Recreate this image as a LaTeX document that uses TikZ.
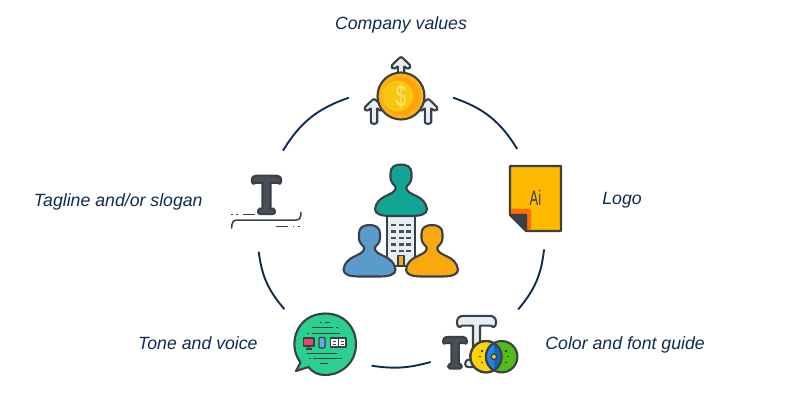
\documentclass[tikz,border=0pt]{standalone}
\usepackage{fontspec}
\setmainfont{Liberation Sans}
\newfontfamily\narrowfont[FakeStretch=0.62]{Liberation Sans}
\usetikzlibrary{positioning}

\definecolor{ringblue}{HTML}{0F2B4F}
\definecolor{iconline}{HTML}{3A3F48}
\definecolor{palefill}{HTML}{E4EEF3}
\definecolor{slatefill}{HTML}{4A4E57}
\definecolor{tealfill}{HTML}{12A594}
\definecolor{bluefill}{HTML}{5A9BCB}
\definecolor{amberfill}{HTML}{F9A80E}
\definecolor{coinrim}{HTML}{FBB313}
\definecolor{coinshade}{HTML}{FFA30A}
\definecolor{coinface}{HTML}{F7C713}
\definecolor{coinmark}{HTML}{FFE36A}
\definecolor{pagefill}{HTML}{FFBA00}
\definecolor{foldfill}{HTML}{FF6D00}
\definecolor{leafgreen}{HTML}{55BB1A}
\definecolor{lensblue}{HTML}{1E88E5}
\definecolor{lensdark}{HTML}{1565B8}
\definecolor{bubblefill}{HTML}{2AD08D}
\definecolor{screenred}{HTML}{E8466A}

% person with head top centre at (#1,#2)
\newcommand{\personicon}[3]{
    \draw[outline, fill=#3, shift={(#1,#2)}] (-10.5,9) .. controls (-10.5,3) and (-6,0.5) .. (0,0.5)
        .. controls (6,0.5) and (10.5,3) .. (10.5,9) -- (10.5,14)
        .. controls (10.5,18) and (7,21) .. (5.5,22.5) -- (5.5,25)
        .. controls (8,32) and (24,31) .. (26,45)
        .. controls (26,50) and (20,52) .. (10,52) -- (-10,52)
        .. controls (-20,52) and (-26,50) .. (-26,45)
        .. controls (-24,31) and (-8,32) .. (-5.5,25) -- (-5.5,22.5)
        .. controls (-7,21) and (-10.5,18) .. (-10.5,14) -- cycle;
}
% serif T: top centre (#1,#2), scale #3, stem half width #4
\newcommand{\serifT}[5]{
    \draw[outline, fill=#5, shift={(#1,#2)}] (-#4,6.5*#3) -- (-#4,27.5*#3) -- (-5.5*#3,27.5*#3)
        .. controls (-7.5*#3,28.5*#3) and (-7.5*#3,32*#3) .. (-5*#3,32*#3) -- (5*#3,32*#3)
        .. controls (7.5*#3,32*#3) and (7.5*#3,28.5*#3) .. (5.5*#3,27.5*#3) -- (#4,27.5*#3) -- (#4,6.5*#3)
        -- (9*#3,6.5*#3) .. controls (10*#3,8*#3) and (12*#3,7.5*#3) .. (12*#3,4.5*#3)
        .. controls (12*#3,1.5*#3) and (10*#3,0.5*#3) .. (8*#3,0.5*#3) -- (-8*#3,0.5*#3)
        .. controls (-10*#3,0.5*#3) and (-12*#3,1.5*#3) .. (-12*#3,4.5*#3)
        .. controls (-12*#3,7.5*#3) and (-10*#3,8*#3) .. (-9*#3,6.5*#3) -- cycle;
}
% upward arrow with tip at (#1,#2), stem ending at #3
\newcommand{\uparrowicon}[3]{
    \draw[outline, fill=palefill, shift={(#1,#2)}] (-1.5,0.8) .. controls (-0.7,0) and (0.7,0) .. (1.5,0.8)
        -- (9,8) .. controls (10.5,10) and (8.5,12.5) .. (6.5,11.5) -- (3.2,9.5) -- (3.2,#3)
        .. controls (3.2,#3+2.5) and (-3.2,#3+2.5) .. (-3.2,#3) -- (-3.2,9.5) -- (-6.5,11.5)
        .. controls (-8.5,12.5) and (-10.5,10) .. (-9,8) -- cycle;
}

\begin{document}
\begin{tikzpicture}[
    x=1pt, y=-1pt,
    iconbox/.style={circle, minimum size=104pt, inner sep=0pt},
    caption/.style={inner sep=0pt, text=ringblue, font=\fontsize{17.7}{20}\selectfont\itshape},
    ring/.style={draw=ringblue, line width=1.9pt},
    outline/.style={draw=iconline, line width=2.1pt, line join=round},
    thinline/.style={draw=iconline, line width=1.3pt, line join=round},
    rule/.style={draw=iconline, line width=1.3pt}
]
    \useasboundingbox (0,0) rectangle (800,416);

    % NODES
    \node[iconbox] (values) at (401,95) {};
    \node[iconbox] (logo) at (535,198) {};
    \node[iconbox] (guide) at (480,345) {};
    \node[iconbox] (tone) at (325,342) {};
    \node[iconbox] (tagline) at (266,200) {};

    \node[caption, above=9pt of values] (values_text) {Company values};
    \node[caption, right=15pt of logo, yshift=-2.5pt] (logo_text) {Logo};
    \node[caption, right=13pt of guide] (guide_text) {Color and font guide};
    \node[caption, left=15pt of tone, yshift=-1pt] (tone_text) {Tone and voice};
    \node[caption, left=11pt of tagline, yshift=-1.5pt] (tagline_text) {Tagline and/or slogan};

    % EDGES
    \draw[ring] (values.-3) to[bend left=20] (logo.110);
    \draw[ring] (logo.-80) to[bend left=17] (guide.43);
    \draw[ring] (guide.199) to[bend left=12] (tone.-27);
    \draw[ring] (tone.141) to[bend left=17] (tagline.-98);
    \draw[ring] (tagline.71) to[bend left=20] (values.183);

    % coin and arrows
    \uparrowicon{401}{57}{25}
    \uparrowicon{374}{99}{23}
    \uparrowicon{428}{99}{23}
    \draw[outline, fill=coinrim] (401,96) circle (23.5);
    \fill[coinshade] (401,96) circle (19);
    \fill[coinface] (397.5,96) circle (15.5);
    \node[text=coinmark, font=\fontsize{30}{30}\narrowfont, inner sep=0pt] (dollar) at (401,96) {\$};

    % people and building
    \draw[outline, fill=palefill] (387,214) rectangle (415,266);
    \foreach \rowy in {225,231.5,238,244.5,251}
        \foreach \colx in {393.5,401,408.5}
            \fill[slatefill] (\colx-2.5,\rowy-1.2) rectangle (\colx+2.5,\rowy+1.2);
    \draw[thinline, fill=amberfill] (398,265) -- (398,255.5) -- (404,255.5) -- (404,265);
    \personicon{401}{164}{tealfill}
    \personicon{369.5}{224.5}{bluefill}
    \personicon{432}{224.5}{amberfill}

    % document page
    \draw[outline, fill=pagefill] (510,166) -- (561,166) -- (561,231) -- (526,231) -- (510,215) -- cycle;
    \fill[foldfill] (511,208.5) -- (528,208.5) .. controls (530,208.5) and (531,209.5) .. (531,211.5) -- (531,230) -- (526,230) -- (511,215) -- cycle;
    \draw[outline, fill=iconline] (510,215) -- (526,215) -- (526,231) -- cycle;
    \node[text=iconline, font=\fontsize{21}{21}\narrowfont, inner sep=0pt] (page_mark) at (535.5,198) {Ai};

    % letters and colour lens
    \serifT{476.5}{315}{1.63}{3.5}{palefill}
    \serifT{455}{336.5}{1}{3.7}{slatefill}
    \draw[outline, fill=amberfill!50!yellow] (486,356.7) circle (15.7);
    \draw[outline, fill=leafgreen] (501.7,356.7) circle (15.7);
    \begin{scope}
        \clip (486,356.7) circle (15.7);
        \fill[lensblue] (501.7,356.7) circle (15.7);
        \fill[lensdark] (493.85,340) rectangle (510,372);
        \draw[outline] (501.7,356.7) circle (15.7);
    \end{scope}
    \draw[outline] (486,356.7) circle (15.7);
    \draw[thinline, fill=coinface] (493.85,356.7) circle (2.8);
    \draw[thinline] (481,351) -- (482.5,351) (479,356.7) -- (481,356.7) (481,362.5) -- (482.5,362.5)
        (505,351) -- (506.5,351) (507,356.7) -- (509,356.7) (505,362.5) -- (506.5,362.5);

    % speech bubble
    \draw[outline, fill=bubblefill] (300.5,362.5) .. controls (287,345) and (296,314) .. (325,313.5)
        .. controls (345,313.5) and (356,328) .. (356,344.3) .. controls (356,362) and (342,375) .. (325,375)
        .. controls (319,375) and (313,373) .. (308.5,367) -- (296,371) -- cycle;
    \draw[rule] (320,322.3) -- (322,322.3) (325,322.3) -- (330,322.3) (311.7,327.7) -- (333.3,327.7) (336,327.7) -- (338,327.7)
        (306.7,333.3) -- (309,333.3) (312,333.3) -- (340,333.3);
    \draw[rule] (306.7,353.3) -- (336.7,353.3) (313,358.3) -- (341.7,358.3) (309,358.3) -- (310.5,358.3) (320,363.3) -- (328.3,363.3);
    \draw[thinline, fill=screenred] (303.5,338) rectangle (314,346);
    \draw[thinline] (308.7,346) -- (308.7,349) (306,349) -- (311.5,349);
    \draw[thinline, fill=lensblue!70!white, rounded corners=1pt] (319,337.5) rectangle (325,348);
    \draw[thinline, fill=white] (330.5,338) rectangle (346,347);
    \draw[thinline] (338.2,338) -- (338.2,347);
    \draw[draw=iconline, line width=1pt] (332.5,341) -- (336,341) (332.5,344) -- (336,344) (340.5,341) -- (344,341) (340.5,344) -- (344,344);

    % tagline letter and rules
    \serifT{266.5}{175}{1.22}{4}{slatefill}
    \draw[draw=iconline, line width=1.5pt, line cap=round] (231.7,228) .. controls (231.7,223) and (233,220) .. (237,220) -- (296,220) .. controls (300,220) and (301,217) .. (301,212.5);
    \draw[rule] (230.7,214.3) -- (232.7,214.3) (235.7,214.3) -- (238.3,214.3) (243,214.3) -- (255,214.3);
    \draw[rule] (276,226.7) -- (288.3,226.7) (292.7,226.7) -- (294,226.7) (298.3,226.7) -- (300,226.7);
\end{tikzpicture}
\end{document}
